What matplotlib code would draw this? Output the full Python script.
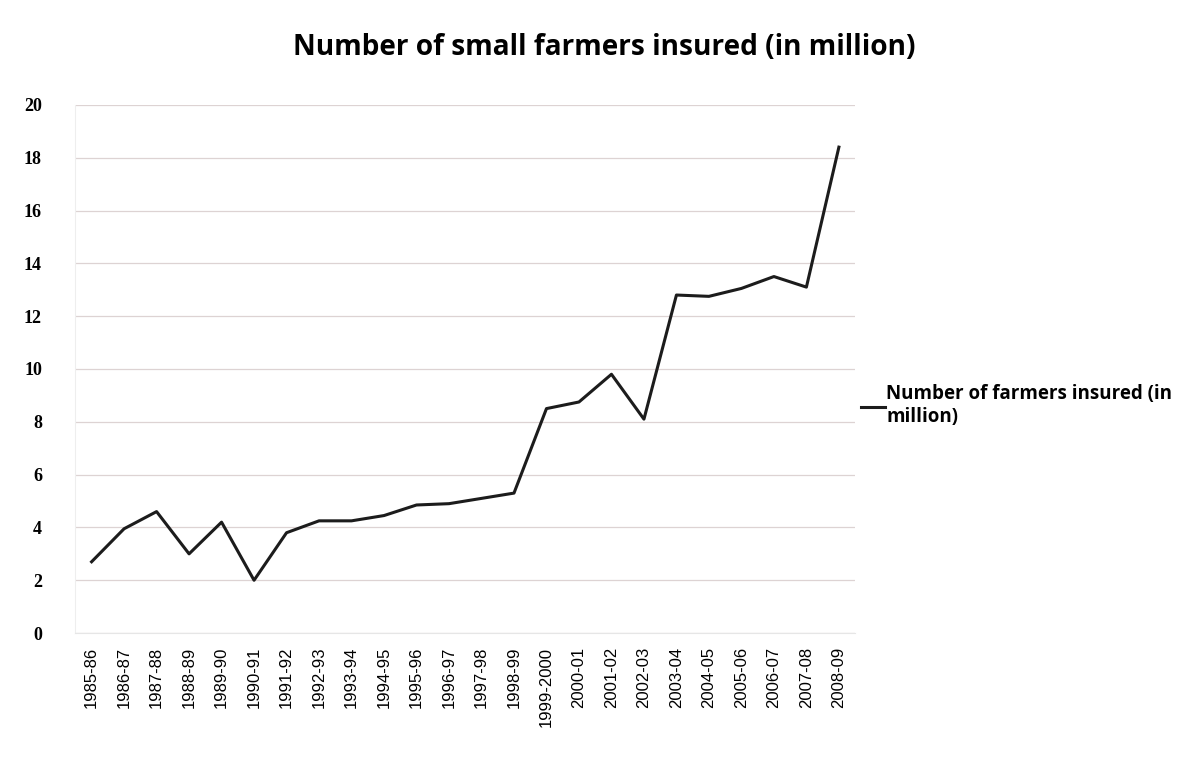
import matplotlib.pyplot as plt

# values (million farmers)
years = ['1985-86', '1986-87', '1987-88', '1988-89', '1989-90', '1990-91',
         '1991-92', '1992-93', '1993-94', '1994-95', '1995-96', '1996-97',
         '1997-98', '1998-99', '1999-2000', '2000-01', '2001-02', '2002-03',
         '2003-04', '2004-05', '2005-06', '2006-07', '2007-08', '2008-09']
farmers = [2.7, 3.95, 4.6, 3.0, 4.2, 2.0,
           3.8, 4.25, 4.25, 4.45, 4.85, 4.9,
           5.1, 5.3, 8.5, 8.75, 9.8, 8.1,
           12.8, 12.75, 13.05, 13.5, 13.1, 18.4]
yticks = list(range(0, 21, 2))

fig = plt.figure(figsize=(11.96, 7.6), dpi=100)
ax = fig.add_axes([0.063, 0.167, 0.652, 0.695])

x = range(len(years))
ax.plot(x, farmers, color='#1c1c1c', lw=2.2,
        label='Number of farmers insured (in\nmillion)')

ax.set_xlim(-0.5, len(years) - 0.5)
ax.set_ylim(0, 20)
ax.set_yticks(yticks)
ax.set_yticklabels([str(v) for v in yticks], family='Liberation Serif',
                   fontweight='bold', fontsize=13)
ax.set_xticks(list(x))
ax.set_xticklabels(years, rotation=90, family='Liberation Sans', fontsize=12)
ax.tick_params(axis='y', length=0, pad=24)
ax.tick_params(axis='x', length=0, pad=10)

ax.grid(axis='y', color='#ddd3d3', lw=0.9)
for s in ['top', 'right']:
    ax.spines[s].set_visible(False)
ax.spines['left'].set_color('#eeeeee')
ax.spines['bottom'].set_color('#e6e6e6')

fig.text(0.505, 0.938, 'Number of small farmers insured (in million)',
         ha='center', va='center', family='Open Sans', fontweight='bold',
         fontsize=20.2)

ax.legend(loc='center left', bbox_to_anchor=(0.998, 0.43), frameon=False,
          handlelength=1.3, handletextpad=0.05, borderaxespad=0.0,
          prop={'family': 'Open Sans', 'weight': 'bold', 'size': 13.5})

fig.savefig('out.png', dpi=100, facecolor='white')
